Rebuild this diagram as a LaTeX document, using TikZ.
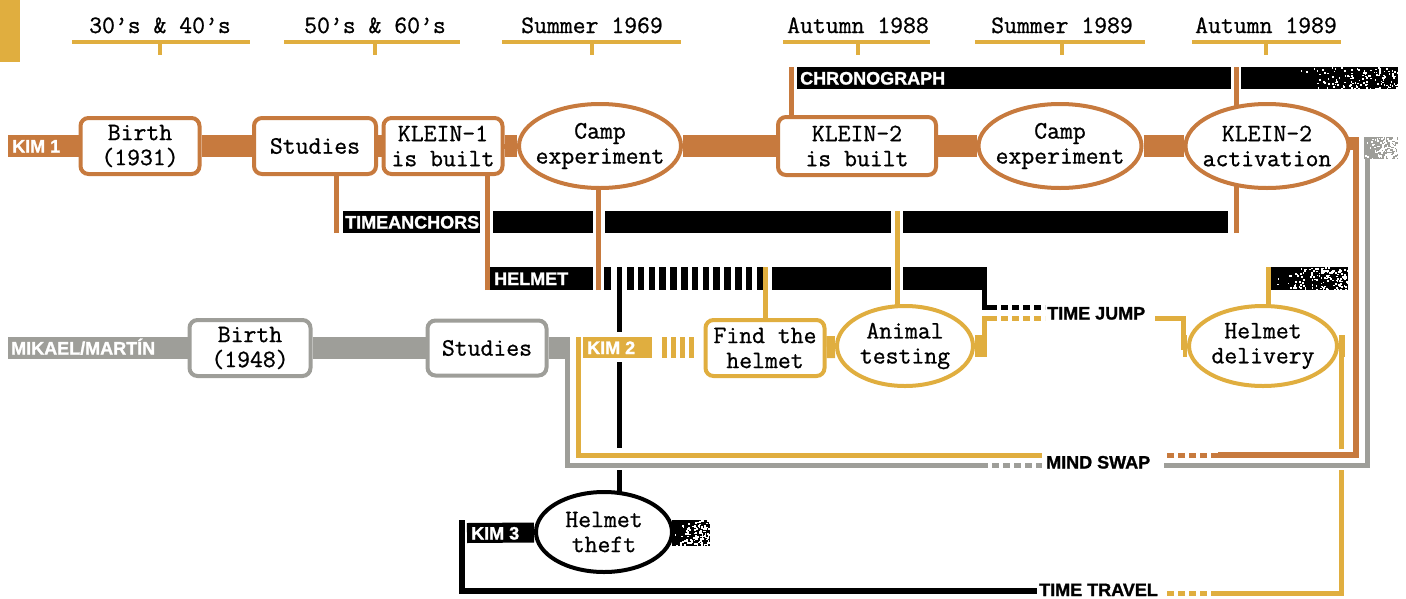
\documentclass[tikz,border=0pt]{standalone}
\usepackage{fontspec}
\setmainfont{Liberation Sans}[BoldFeatures={FakeBold=1.3}]
\newfontfamily\tw{Latin Modern Mono}[FakeBold=0.9]
\usetikzlibrary{shapes.geometric,backgrounds}
\definecolor{cor}{HTML}{C77A3E}
\definecolor{cgo}{HTML}{E0AE3F}
\definecolor{cgr}{HTML}{9E9E99}
\newcommand\mygrunge[6]{%
  \fill[#1] (#2,#3) rectangle (#4,#5);
  \foreach \gi in {1,...,140}{%
    \pgfmathsetmacro\gx{#6+(#4-#6)*sqrt(rnd)}%
    \pgfmathsetmacro\gy{#3+(#5-#3)*rnd}%
    \fill[white] (\gx,\gy) rectangle ++(1.7,1.7);}}
\begin{document}
\begin{tikzpicture}[x=1pt,y=-1pt,
  twf/.style={font={\tw\fontsize{25}{25}\selectfont}},
  rbox/.style={twf,draw,line width=4pt,rounded corners=8pt,fill=white,inner sep=0pt,align=center},
  oval/.style={draw,ellipse,line width=4pt,fill=white,inner sep=0pt},
  otext/.style={twf,align=center,inner sep=0pt},
  band/.style={line width=22pt},
  wire/.style={line width=5pt},
  dotline/.style={line width=5pt,dash pattern=on 7pt off 4pt},
  lbl/.style={font={\bfseries\fontsize{18}{18}\selectfont},text=white,inner sep=0pt,anchor=base west},
  captext/.style={font={\bfseries\fontsize{18}{18}\selectfont},text=black,inner sep=0pt,anchor=base west},
  datetext/.style={twf,anchor=base,inner sep=0pt}]
\useasboundingbox (0,0) rectangle (1406,598);
\pgfmathsetseed{7}
% header
\fill[cgo] (0,0) rectangle (20,62);
\foreach \cx/\l/\r/\t [count=\n] in {160/72/250/{30’s \& 40’s}, 375/284/460/{50’s \& 60’s}, 592/502/681/{Summer 1969}, 858/783/930/{Autumn 1988}, 1062/975/1145/{Summer 1989}, 1266/1192/1341/{Autumn 1989}}{
  \node[datetext] (d\n) at (\cx,33) {\t};
  \draw[cgo,line width=3.5pt] (\l,42) -- (\r,42);
  \draw[cgo,line width=4pt] (\cx,42) -- (\cx,55);
}
% bars
\fill (797,67) rectangle (1231,89);
\mygrunge{black}{1241}{67}{1398}{89}{1300}
\fill (343,211) rectangle (480,233);
\fill (493,211) rectangle (593,233);
\fill (605,211) rectangle (891,233);
\fill (903,211) rectangle (1228,233);
\fill (490,267) rectangle (593,290);
\fill (604,267) rectangle (611,290);
\foreach \k in {0,...,12} \fill (627+10.8*\k,267) rectangle ++(6.5,23);
\fill (772,267) rectangle (891,290);
\fill (903,267) rectangle (987,290);
\mygrunge{black}{1271}{267}{1348}{290}{1271}
\mygrunge{cgr}{1364}{137}{1398}{159}{1364}
\mygrunge{black}{672}{520}{710}{546}{672}
\fill[cgo] (583,337) rectangle (652,358);
\foreach \k in {0,...,3} \fill[cgo] (662+9*\k,337) rectangle ++(5,21);
% row 1
\node[rbox,draw=cor,minimum width=119pt,minimum height=56pt] (b1) at (140,146) {Birth\\(1931)};
\node[rbox,draw=cor,minimum width=122pt,minimum height=56pt] (s1) at (315,146) {Studies};
\node[rbox,draw=cor,minimum width=119pt,minimum height=56pt] (k1) at (443,146) {KLEIN-1\\is built};
\node[oval,draw=cor,minimum width=162pt,minimum height=84pt] (c1) at (600,146) {};
\node[otext] (c1t) at (c1) {Camp\\experiment};
\node[rbox,draw=cor,minimum width=158pt,minimum height=58pt] (k2) at (857,146) {KLEIN-2\\is built};
\node[oval,draw=cor,minimum width=163pt,minimum height=84pt] (c2) at (1060,146) {};
\node[otext] (c2t) at (c2) {Camp\\experiment};
\node[oval,draw=cor,minimum width=163pt,minimum height=84pt] (a1) at (1267,146) {};
\node[otext] (a1t) at (a1) {KLEIN-2\\activation};
% row 2
\node[rbox,draw=cgr,minimum width=121pt,minimum height=56pt] (b2) at (250,348) {Birth\\(1948)};
\node[rbox,draw=cgr,minimum width=119pt,minimum height=55pt] (s2) at (487,348) {Studies};
\node[rbox,draw=cgo,minimum width=119pt,minimum height=56pt] (fh) at (765,348) {Find the\\helmet};
\node[oval,draw=cgo,minimum width=136pt,minimum height=80pt] (at) at (905,346) {};
\node[otext] (att) at (at) {Animal\\testing};
\node[oval,draw=cgo,minimum width=148pt,minimum height=80pt] (hd) at (1263,346) {};
\node[otext] (hdt) at (hd) {Helmet\\delivery};
% row 3
\node[oval,draw=black,minimum width=136pt,minimum height=80pt] (ht) at (604,532) {};
\node[otext] (htt) at (ht) {Helmet\\theft};
% labels
\node[lbl] (kim1) at (12,152.5) {KIM 1};
\node[lbl] (chrono) at (800,84.5) {CHRONOGRAPH};
\node[lbl] (tanch) at (345,228.5) {TIMEANCHORS};
\node[lbl] (helm) at (494,285) {HELMET};
\node[lbl] (mik) at (11,354.5) {MIKAEL/MARTÍN};
\node[lbl] (kim2) at (587,354) {KIM 2};
\node[lbl] (kim3) at (471,539.5) {KIM 3};
\node[captext] (tj) at (1047,319.5) {TIME JUMP};
\node[captext] (ms) at (1046,468.5) {MIND SWAP};
\node[captext] (tt) at (1039,596) {TIME TRAVEL};
% connectors
\begin{scope}[on background layer]
\draw[band,cor] (8,146) -- (b1) -- (s1) -- (k1) -- (c1) -- (k2) -- (c2) -- (a1);
\draw[band,cgr] (8,348) -- (b2) -- (s2) -- (570,348);
\draw[band,cgo] (fh) -- (at);
\draw[band,cgo] (at) -- (987,346);
\draw[band,cgo] (1183,346) -- (hd);
\draw[band,cgo] (hd) -- (1345,346);
\draw[line width=20pt] (467,533) -- (ht);
\draw[wire,cor] (336,233) |- (s1);
\draw[wire,cor] (487,290) |- (k1);
\draw[wire,cor] (598,290) |- (c1);
\draw[wire,cor] (791,67) |- (k2);
\draw[wire,cor] (1236,67) |- (a1);
\draw[wire,cor] (1236,233) |- (a1);
\draw[wire,cgo] (897,211) |- (at);
\draw[wire,cgo] (765,267) |- (fh);
\draw[wire,cgo] (1268,267) |- (hd);
\fill[cor] (1330,137) rectangle (1359,150);
\draw[line width=6pt,cor] (1300,140) -- (1356,140) -- (1356,455) -- (1218,455);
\draw[dotline,cor] (1218,455) -- (1164,455);
\draw[wire,cgr] (567.5,348) -- (567.5,465) -- (988,465);
\draw[dotline,cgr] (992,465) -- (1042,465);
\draw[wire,cgr] (1164,465) -- (1367.5,465) -- (1367.5,140);
\draw[wire,cgo] (578,337) -- (578,455) -- (1042,455);
\draw[wire,cgo] (984,347) -- (984,318) -- (990,318);
\draw[dotline,cgo] (990,318) -- (1045,318);
\draw[wire,cgo] (1155,318) -- (1183,318) -- (1183,350);
\draw[wire,cgo] (1341,346) -- (1341,449);
\draw[wire,cgo] (1341,470) -- (1341,593.5) -- (1218,593.5);
\draw[dotline,cgo] (1218,593.5) -- (1164,593.5);
\draw[wire] (984.5,288) -- (984.5,307.5) -- (990,307.5);
\draw[dotline] (990,307.5) -- (1045,307.5);
\draw[wire] (619,267) -- (619,332);
\draw[wire] (619,362) -- (619,448);
\draw[wire] (619,470) |- (ht);
\draw[line width=6pt] (462,520) -- (462,591) -- (1037,591);
\end{scope}
\end{tikzpicture}
\end{document}
